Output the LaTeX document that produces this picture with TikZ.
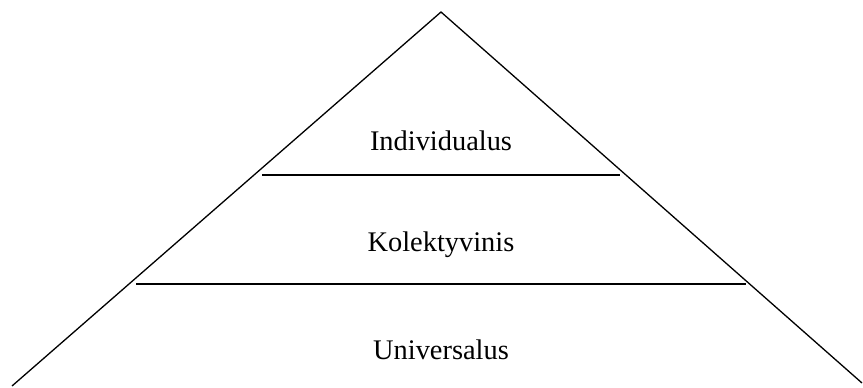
\documentclass[tikz,border=0pt]{standalone}
\usepackage{fontspec}
\setmainfont{Liberation Serif}
\usepackage{tikz}

\tikzset{
  level/.style={font=\fontsize{14.2}{17}\selectfont},
  edge/.style={line width=0.65pt}
}

\begin{document}
\begin{tikzpicture}[x=0.5pt,y=-0.5pt]
        \useasboundingbox (0,0) rectangle (863,387);

        % pyramid corners
        \coordinate (top) at (441,12);
        \coordinate (bl) at (12,386);
        \coordinate (br) at (862,383);
        \draw[edge] (bl) -- (top) -- (br);

        % dividers
        \coordinate (d1l) at (262,175);
        \coordinate (d1r) at (620,175);
        \coordinate (d2l) at (136,284);
        \coordinate (d2r) at (746,284);
        \draw[edge] (d1l) -- (d1r);
        \draw[edge] (d2l) -- (d2r);

        % levels
        \node[level] (ind) at (441,141) {Individualus};
        \node[level] (kol) at (441,245) {Kolektyvinis};
        \node[level] (uni) at (441,350) {Universalus};
\end{tikzpicture}
\end{document}
